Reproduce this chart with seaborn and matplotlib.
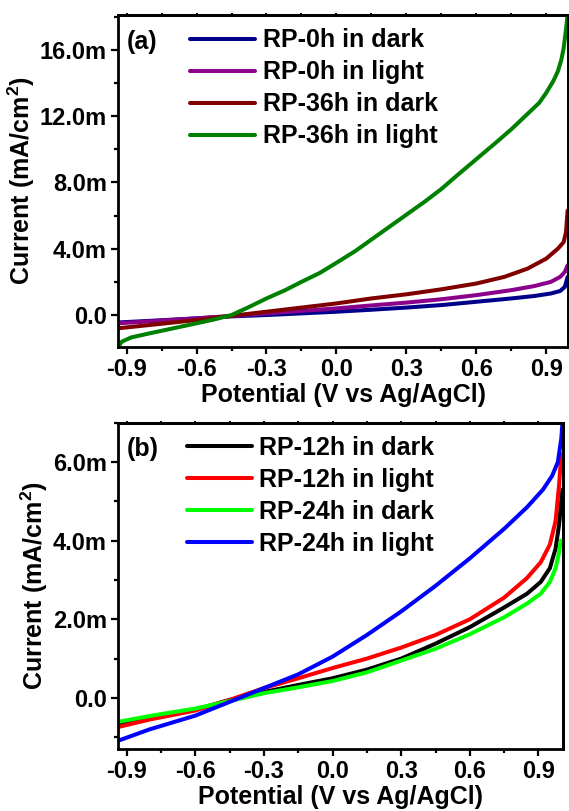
import numpy as np
import pandas as pd
import matplotlib
matplotlib.use('Agg')
import matplotlib.pyplot as plt
import matplotlib.ticker as mticker
import seaborn as sns

sns.set_theme(style='ticks')
plt.rcParams['font.family'] = ['Liberation Sans', 'DejaVu Sans']
plt.rcParams['font.weight'] = 'bold'
plt.rcParams['axes.labelweight'] = 'bold'
plt.rcParams['axes.unicode_minus'] = False
plt.rcParams['text.color'] = 'black'
plt.rcParams['axes.labelcolor'] = 'black'
plt.rcParams['xtick.color'] = 'black'
plt.rcParams['ytick.color'] = 'black'
plt.rcParams['mathtext.fontset'] = 'custom'
plt.rcParams['mathtext.bf'] = 'Liberation Sans:bold'
plt.rcParams['mathtext.rm'] = 'Liberation Sans:bold'
plt.rcParams['mathtext.default'] = 'bf'

# ---- panel (a) data ----
a_labels = ['RP-0h in dark', 'RP-0h in light', 'RP-36h in dark', 'RP-36h in light']
a_colors = ['#00008B', '#8B008B', '#800000', '#008000']

a0d_x = [-0.937, -0.8, -0.6, -0.45, -0.3, -0.15, 0.0, 0.15, 0.3, 0.45, 0.6, 0.75, 0.85, 0.92, 0.96, 0.98, 0.992]
a0d_y = [-0.45, -0.35, -0.2, -0.08, 0.0, 0.1, 0.2, 0.32, 0.45, 0.6, 0.8, 1.0, 1.15, 1.3, 1.45, 1.7, 2.3]

a0l_x = [-0.937, -0.8, -0.6, -0.45, -0.3, -0.15, 0.0, 0.15, 0.3, 0.45, 0.6, 0.75, 0.85, 0.92, 0.96, 0.98, 0.992]
a0l_y = [-0.5, -0.38, -0.2, -0.05, 0.1, 0.25, 0.4, 0.58, 0.75, 0.95, 1.2, 1.5, 1.75, 2.0, 2.3, 2.6, 3.0]

a36d_x = [-0.937, -0.8, -0.6, -0.45, -0.3, -0.15, 0.0, 0.15, 0.3, 0.45, 0.6, 0.72, 0.82, 0.9, 0.95, 0.975, 0.985, 0.992]
a36d_y = [-0.8, -0.6, -0.3, -0.05, 0.2, 0.45, 0.7, 1.0, 1.25, 1.55, 1.9, 2.3, 2.8, 3.4, 4.0, 4.4, 5.0, 6.3]

a36l_x = [-0.937, -0.92, -0.88, -0.8, -0.7, -0.6, -0.52, -0.45, -0.38, -0.3, -0.22, -0.15, -0.07, 0.0, 0.08,
          0.15, 0.22, 0.3, 0.38, 0.45, 0.52, 0.6, 0.68, 0.75, 0.81, 0.87, 0.9, 0.93, 0.95, 0.965, 0.975, 0.983, 0.988, 0.992]
a36l_y = [-1.93, -1.6, -1.35, -1.1, -0.8, -0.5, -0.25, 0.0, 0.45, 1.0, 1.5, 2.0, 2.55, 3.15, 3.85,
          4.55, 5.25, 6.05, 6.85, 7.6, 8.45, 9.4, 10.35, 11.2, 12.0, 12.8, 13.4, 14.1, 14.7, 15.4, 16.1, 17.0, 17.6, 18.2]

# ---- panel (b) data ----
b_labels = ['RP-12h in dark', 'RP-12h in light', 'RP-24h in dark', 'RP-24h in light']
b_colors = ['#000000', '#FF0000', '#00FF00', '#0000FF']

b12d_x = [-0.938, -0.8, -0.6, -0.45, -0.3, -0.15, 0.0, 0.15, 0.3, 0.45, 0.6, 0.75, 0.85, 0.91, 0.95, 0.975, 0.99, 1.005]
b12d_y = [-0.7, -0.52, -0.3, -0.05, 0.15, 0.33, 0.5, 0.72, 1.0, 1.38, 1.8, 2.3, 2.65, 2.95, 3.3, 3.8, 4.4, 5.3]

b12l_x = [-0.938, -0.8, -0.6, -0.45, -0.3, -0.15, 0.0, 0.15, 0.3, 0.45, 0.6, 0.75, 0.85, 0.91, 0.95, 0.975, 0.99, 1.0]
b12l_y = [-0.74, -0.55, -0.32, -0.05, 0.25, 0.5, 0.76, 1.0, 1.28, 1.6, 2.0, 2.55, 3.05, 3.45, 3.9, 4.5, 5.4, 6.2]

b24d_x = [-0.938, -0.8, -0.6, -0.45, -0.3, -0.15, 0.0, 0.15, 0.3, 0.45, 0.6, 0.75, 0.85, 0.91, 0.95, 0.975, 0.99, 0.998]
b24d_y = [-0.61, -0.46, -0.27, -0.08, 0.12, 0.27, 0.43, 0.65, 0.95, 1.25, 1.62, 2.05, 2.4, 2.65, 2.95, 3.3, 3.7, 4.0]

b24l_x = [-0.938, -0.8, -0.6, -0.45, -0.3, -0.15, 0.0, 0.15, 0.3, 0.45, 0.6, 0.75, 0.85, 0.92, 0.96, 0.985, 1.0, 1.005]
b24l_y = [-1.09, -0.8, -0.45, -0.1, 0.25, 0.6, 1.05, 1.6, 2.2, 2.85, 3.55, 4.3, 4.85, 5.3, 5.65, 6.0, 6.6, 7.0]

x_ticks = [-0.9, -0.6, -0.3, 0.0, 0.3, 0.6, 0.9]


def m_fmt(v, pos):
    if abs(v) < 1e-9:
        return '0.0'
    return '%.1fm' % v


def style_axes(ax, xlim, ylim, ymajor, yminor):
    ax.set_xlim(*xlim)
    ax.set_ylim(*ylim)
    ax.set_xticks(x_ticks)
    ax.xaxis.set_minor_locator(mticker.MultipleLocator(0.15))
    ax.xaxis.set_major_formatter(mticker.FormatStrFormatter('%.1f'))
    ax.yaxis.set_major_locator(mticker.MultipleLocator(ymajor))
    ax.yaxis.set_minor_locator(mticker.MultipleLocator(yminor))
    ax.yaxis.set_major_formatter(mticker.FuncFormatter(m_fmt))
    for s in ax.spines.values():
        s.set_visible(True)
        s.set_linewidth(2.0)
        s.set_color('black')
    ax.tick_params(which='major', direction='out', length=5, width=1.6, labelsize=17, pad=3, colors='black')
    ax.tick_params(which='minor', direction='out', length=3, width=1.6, colors='black')
    for lab in ax.get_xticklabels() + ax.get_yticklabels():
        lab.set_fontweight('bold')
    # small ticks on top and right
    top = ax.secondary_xaxis('top')
    top.set_xticks(x_ticks)
    top.xaxis.set_minor_locator(mticker.MultipleLocator(0.15))
    top.tick_params(which='both', direction='out', length=1.5, width=1.4, labeltop=False, colors='black')
    top.spines['top'].set_linewidth(2.0)
    top.spines['top'].set_color('black')
    right = ax.secondary_yaxis('right')
    right.yaxis.set_major_locator(mticker.MultipleLocator(ymajor))
    right.yaxis.set_minor_locator(mticker.MultipleLocator(yminor))
    right.tick_params(which='both', direction='out', length=1.5, width=1.4, labelright=False, colors='black')
    right.spines['right'].set_linewidth(2.0)
    right.spines['right'].set_color('black')
    ax.set_xlabel('Potential (V vs Ag/AgCl)', fontsize=18, fontweight='bold', labelpad=1, color='black')
    ax.set_ylabel('Current (mA/cm$^2$)', fontsize=18, fontweight='bold', labelpad=2, color='black')


fig = plt.figure(figsize=(5.69, 8.11), dpi=100)
ax1 = fig.add_axes([0.2074, 0.5721, 0.791, 0.4094])
ax2 = fig.add_axes([0.2074, 0.0764, 0.7815, 0.4024])

a_series = [(a0d_x, a0d_y), (a0l_x, a0l_y), (a36d_x, a36d_y), (a36l_x, a36l_y)]
for (xs, ys), lab, col in zip(a_series, a_labels, a_colors):
    sns.lineplot(x=xs, y=ys, ax=ax1, color=col, label=lab, linewidth=2.9, sort=False)

b_series = [(b12d_x, b12d_y), (b12l_x, b12l_y), (b24d_x, b24d_y), (b24l_x, b24l_y)]
for (xs, ys), lab, col in zip(b_series, b_labels, b_colors):
    sns.lineplot(x=xs, y=ys, ax=ax2, color=col, label=lab, linewidth=2.9, sort=False)

style_axes(ax1, (-0.937, 0.994), (-1.93, 18.1), 4, 2)
style_axes(ax2, (-0.938, 1.006), (-1.3, 7.0), 2, 1)

for ax, tag, x0 in [(ax1, '(a)', 0.16), (ax2, '(b)', 0.155)]:
    ax.text(0.02, 0.955, tag, transform=ax.transAxes, ha='left', va='top',
            fontsize=18, fontweight='bold', color='black')
    leg = ax.legend(loc='upper left', bbox_to_anchor=(x0, 0.96), frameon=False,
                    fontsize=18, handlelength=2.6, handletextpad=0.3,
                    labelspacing=0.32, borderpad=0, borderaxespad=0)
    for t in leg.get_texts():
        t.set_fontweight('bold')
        t.set_color('black')

fig.savefig('out.png', dpi=100)
